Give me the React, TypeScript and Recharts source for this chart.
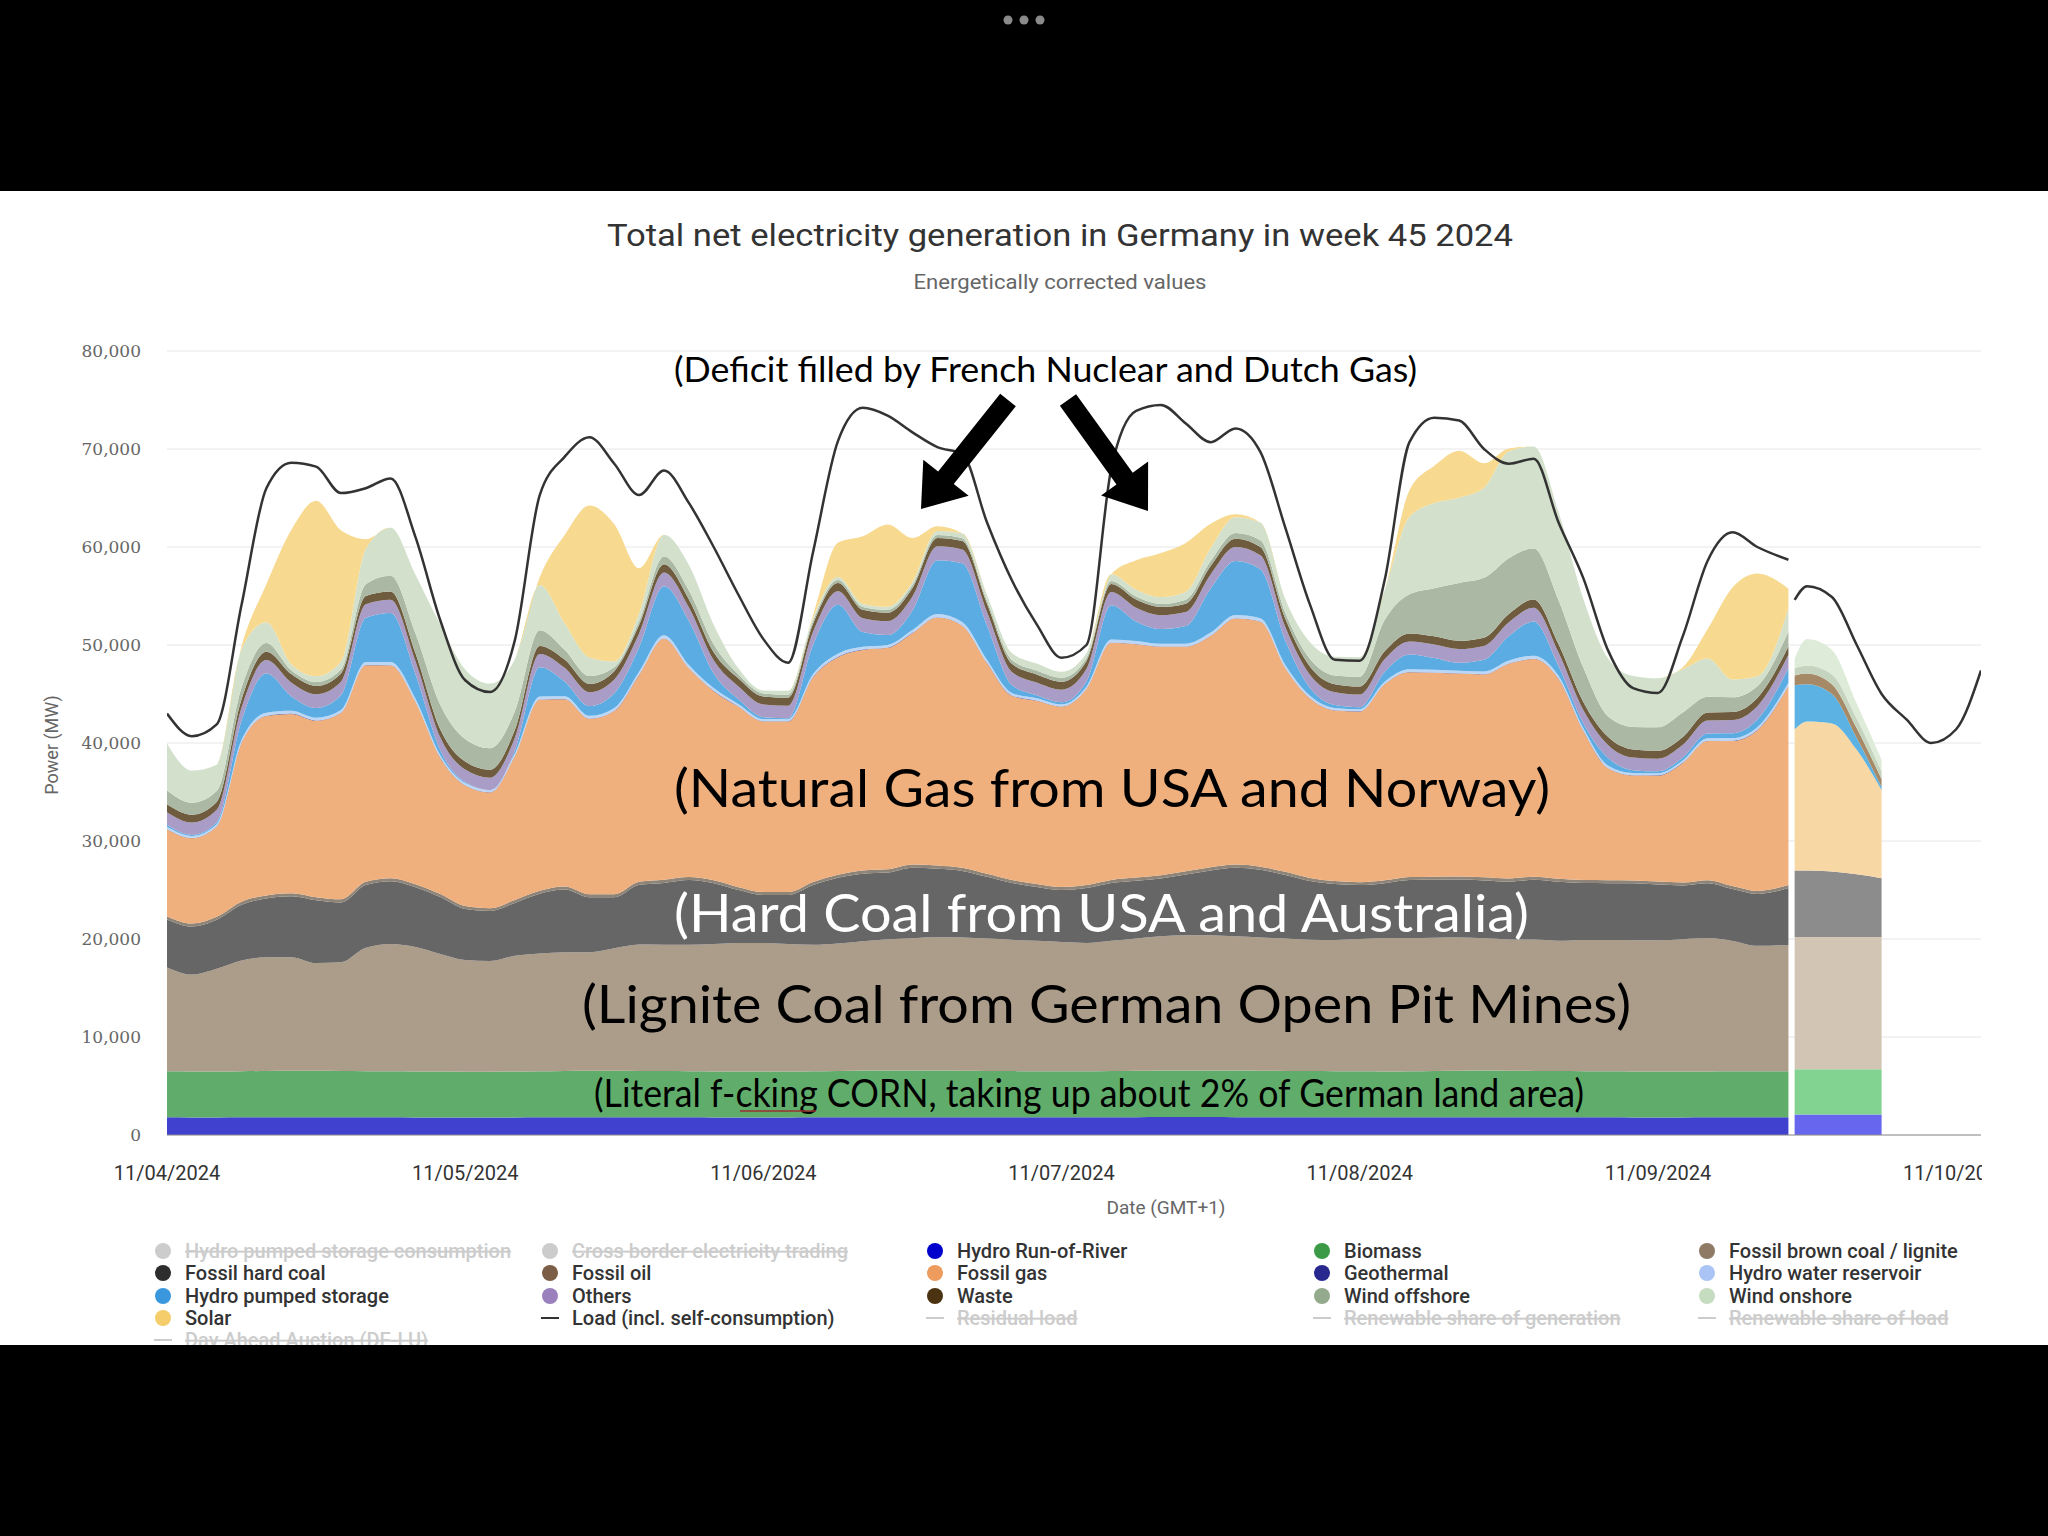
import React from "react"
import { Area, CartesianGrid, ComposedChart, Line, XAxis, YAxis } from "recharts"

// hours since 11/04/2024 00:00 (GMT+1), measured data
const hours = [
  0, 2, 4, 6, 8, 10, 12, 14, 16, 18, 20, 22,
  24, 26, 28, 30, 32, 34, 36, 38, 40, 42, 44, 46,
  48, 50, 52, 54, 56, 58, 60, 62, 64, 66, 68, 70,
  72, 74, 76, 78, 80, 82, 84, 86, 88, 90, 92, 94,
  96, 98, 100, 102, 104, 106, 108, 110, 112, 114, 116, 118,
  120, 122, 124, 126, 128, 130.5,
]

const dayTicks = [0, 24, 48, 72, 96, 120, 144]
const dayLabels = ["11/04/2024", "11/05/2024", "11/06/2024", "11/07/2024", "11/08/2024", "11/09/2024", "11/10/2024"]
const powerTicks = [0, 10000, 20000, 30000, 40000, 50000, 60000, 70000, 80000]

// MW
const runOfRiver = [
  1800, 1790, 1790, 1800, 1810, 1820, 1820, 1810, 1800, 1800, 1790, 1790,
  1780, 1780, 1790, 1800, 1810, 1810, 1810, 1800, 1800, 1800, 1790, 1790,
  1790, 1790, 1800, 1810, 1820, 1820, 1820, 1820, 1810, 1810, 1800, 1800,
  1800, 1800, 1810, 1820, 1830, 1830, 1830, 1820, 1820, 1810, 1810, 1800,
  1800, 1800, 1810, 1820, 1820, 1820, 1820, 1810, 1810, 1800, 1800, 1790,
  1790, 1790, 1800, 1800, 1800, 1800,
]
const biomass = [
  4700, 4690, 4680, 4700, 4720, 4730, 4730, 4720, 4710, 4700, 4700, 4690,
  4680, 4680, 4690, 4710, 4730, 4740, 4740, 4730, 4720, 4710, 4700, 4700,
  4700, 4700, 4710, 4730, 4750, 4760, 4760, 4750, 4740, 4730, 4720, 4710,
  4700, 4700, 4710, 4730, 4750, 4760, 4760, 4750, 4740, 4730, 4720, 4710,
  4700, 4690, 4700, 4720, 4740, 4750, 4740, 4730, 4720, 4710, 4700, 4690,
  4680, 4680, 4690, 4700, 4700, 4700,
]
const lignite = [
  10600, 9900, 10500, 11300, 11600, 11600, 11000, 11100, 12600, 13000, 12700, 12000,
  11400, 11300, 11800, 12000, 12100, 12100, 12500, 12900, 12900, 12900, 13000, 13100,
  13100, 13000, 12900, 13000, 13200, 13400, 13500, 13600, 13600, 13500, 13400, 13300,
  13200, 13100, 13300, 13500, 13700, 13800, 13800, 13700, 13600, 13500, 13400, 13400,
  13500, 13600, 13600, 13600, 13600, 13500, 13400, 13400, 13300, 13400, 13400, 13400,
  13400, 13500, 13600, 13300, 12800, 12900,
]
const hardCoal = [
  4900, 4900, 5000, 5700, 6000, 6200, 6400, 6100, 6400, 6400, 6100, 5800,
  5200, 5100, 5400, 6100, 6400, 5600, 5200, 6100, 6300, 6600, 6200, 5400,
  4900, 5000, 6100, 6700, 6900, 6800, 7200, 7000, 6800, 6300, 5800, 5500,
  5300, 5600, 5900, 5900, 5900, 6200, 6600, 7000, 6900, 6500, 6000, 5700,
  5500, 5600, 5900, 5900, 5900, 5900, 5900, 6100, 6000, 5800, 5800, 5800,
  5700, 5500, 5600, 5300, 5300, 5800,
]
const fossilOil = [
  300, 300, 300, 310, 320, 320, 320, 320, 320, 310, 300, 300,
  300, 290, 300, 310, 320, 320, 320, 320, 320, 310, 300, 300,
  300, 300, 310, 320, 330, 330, 330, 330, 320, 310, 300, 300,
  300, 300, 310, 320, 330, 330, 330, 330, 320, 310, 300, 300,
  300, 300, 310, 320, 320, 320, 320, 320, 310, 300, 300, 300,
  300, 300, 310, 310, 310, 310,
]
const fossilGas = [
  8900, 8700, 9200, 16200, 18300, 18300, 18000, 19000, 22100, 21700, 18600, 13900,
  12300, 11800, 14700, 19500, 19100, 17900, 18700, 21100, 24600, 21300, 19300, 18400,
  17400, 17400, 20900, 22200, 22500, 22600, 23600, 25300, 24700, 21500, 18800, 18700,
  18400, 20000, 24200, 23800, 23300, 22900, 23600, 25100, 25000, 20800, 18300, 17400,
  17400, 20000, 20900, 20800, 20700, 20700, 21900, 22200, 20400, 15200, 11400, 10700,
  10800, 12200, 14200, 14800, 16400, 20300,
]
const geothermal = [
  30, 30, 30, 30, 30, 30, 30, 30, 30, 30, 30, 30,
  30, 30, 30, 30, 30, 30, 30, 30, 30, 30, 30, 30,
  30, 30, 30, 30, 30, 30, 30, 30, 30, 30, 30, 30,
  30, 30, 30, 30, 30, 30, 30, 30, 30, 30, 30, 30,
  30, 30, 30, 30, 30, 30, 30, 30, 30, 30, 30, 30,
  30, 30, 30, 30, 30, 30,
]
const waterReservoir = [
  220, 210, 210, 260, 300, 280, 270, 280, 310, 320, 290, 240,
  220, 210, 230, 290, 290, 270, 280, 300, 330, 320, 280, 240,
  220, 210, 280, 320, 290, 270, 290, 330, 340, 310, 260, 230,
  220, 220, 300, 300, 280, 280, 320, 340, 330, 300, 250, 230,
  220, 230, 280, 280, 270, 270, 300, 320, 290, 260, 240, 220,
  210, 220, 250, 260, 270, 300,
]
const pumpedStorage = [
  200, 100, 200, 2000, 4000, 1500, 1000, 1500, 4500, 5000, 2500, 500,
  100, 0, 300, 3000, 1500, 1000, 1500, 2500, 5000, 4500, 1500, 500,
  200, 100, 3000, 5000, 1500, 1000, 2000, 5500, 6000, 3500, 800, 300,
  200, 500, 3500, 2000, 1500, 1800, 4500, 5500, 5000, 2500, 800, 300,
  200, 1000, 1500, 1200, 800, 1200, 2500, 3500, 1000, 500, 800, 300,
  200, 300, 500, 500, 800, 1500,
]
const others = [
  1280, 1260, 1270, 1330, 1380, 1400, 1400, 1390, 1380, 1360, 1330, 1300,
  1280, 1270, 1290, 1340, 1390, 1410, 1400, 1400, 1390, 1370, 1340, 1310,
  1290, 1280, 1320, 1380, 1420, 1430, 1430, 1420, 1410, 1380, 1340, 1310,
  1290, 1290, 1340, 1400, 1420, 1430, 1430, 1420, 1410, 1380, 1340, 1310,
  1290, 1290, 1330, 1380, 1400, 1410, 1400, 1390, 1370, 1340, 1310, 1290,
  1280, 1290, 1320, 1340, 1350, 1360,
]
const waste = [
  820, 810, 810, 830, 850, 850, 850, 850, 850, 840, 830, 820,
  820, 810, 810, 830, 850, 850, 850, 850, 850, 840, 830, 820,
  820, 810, 820, 840, 850, 860, 860, 850, 850, 840, 830, 820,
  820, 810, 820, 840, 850, 860, 860, 850, 850, 840, 830, 820,
  820, 810, 820, 840, 850, 850, 850, 850, 840, 830, 820, 820,
  810, 810, 820, 830, 840, 840,
]
const windOffshore = [
  1400, 1200, 1100, 1200, 900, 400, 400, 400, 1200, 1600, 2000, 2500,
  2300, 2200, 1900, 1600, 1000, 800, 400, 400, 800, 900, 800, 400,
  300, 300, 300, 300, 300, 300, 300, 300, 300, 300, 400, 400,
  400, 300, 300, 300, 300, 400, 500, 600, 700, 600, 800, 900,
  1000, 3200, 4000, 4900, 5900, 6100, 5700, 5200, 4500, 3500, 2100, 2300,
  2400, 2500, 1600, 1500, 1200, 1500,
]
const windOnshore = [
  4800, 3300, 2700, 3900, 2100, 600, 600, 800, 3600, 4900, 6000, 8200,
  7100, 6600, 5300, 4600, 2700, 1900, 600, 800, 2200, 2600, 2000, 600,
  300, 400, 300, 300, 300, 300, 300, 400, 500, 600, 700, 700,
  600, 500, 700, 700, 700, 800, 1300, 1600, 1800, 1400, 1700, 1900,
  2000, 3000, 7900, 8700, 8700, 9200, 10900, 10400, 9000, 7000, 5900, 5200,
  5000, 4400, 3900, 1800, 1000, 2400,
]
const solar = [
  0, 0, 0, 300, 3900, 13700, 17900, 13400, 1000, 0, 0, 0,
  0, 0, 0, 800, 9000, 15500, 14000, 4600, 0, 0, 0, 0,
  0, 0, 300, 3500, 6900, 8400, 4500, 500, 0, 0, 0, 0,
  0, 0, 0, 3000, 4500, 5000, 2500, 300, 0, 0, 0, 0,
  0, 0, 2700, 3800, 4800, 2500, 300, 0, 0, 0, 0, 0,
  0, 200, 3000, 9400, 10500, 2000,
]
const load = [
  43000, 40700, 41900, 54100, 66000, 68600, 68200, 65500, 66000, 67000, 61000, 52500,
  46400, 45200, 50500, 65300, 69200, 71200, 68500, 65300, 67800, 64500, 60000, 55100,
  50600, 48200, 59500, 70800, 74200, 73400, 71700, 70200, 69500, 62500, 56600, 52100,
  48700, 50000, 68000, 73900, 74500, 72600, 70700, 72100, 69700, 62000, 54100, 48500,
  48400, 56600, 70700, 73200, 72900, 70000, 68500, 69000, 62500, 56800, 49400, 45600,
  45100, 50900, 58600, 61500, 60000, 58700,
]

// forecast (lighter colours)
const forecastHours = [131, 132, 134, 136, 138]
const fRunOfRiver = [2100, 2100, 2100, 2100, 2100]
const fBiomass = [4600, 4600, 4600, 4600, 4600]
const fLignite = [13500, 13500, 13500, 13500, 13500]
const fHardCoal = [6800, 6800, 6700, 6400, 6000]
const fGas = [14400, 15200, 15100, 12700, 9000]
const fPumped = [4500, 3800, 3000, 1200, 300]
const fWaste = [1000, 1100, 1000, 1000, 800]
const fOffshore = [700, 800, 1000, 1000, 800]
const fOnshore = [1000, 2700, 2500, 1500, 1200]

const loadForecastHours = [131, 132, 134, 136, 138, 140, 142, 144, 146]
const loadForecast = [54600, 56000, 54900, 50000, 45000, 42400, 40000, 41400, 47400]

const actualSeries = [
  { key: "ror", values: runOfRiver, color: "#4141cf" },
  { key: "biomass", values: biomass, color: "#60ad6b" },
  { key: "lignite", values: lignite, color: "#ac9c8a" },
  { key: "hardCoal", values: hardCoal, color: "#666666" },
  { key: "oil", values: fossilOil, color: "#8e8478" },
  { key: "gas", values: fossilGas, color: "#f0b07d" },
  { key: "geo", values: geothermal, color: "#3a3a90" },
  { key: "reservoir", values: waterReservoir, color: "#bcd6f6" },
  { key: "pumped", values: pumpedStorage, color: "#5aace2" },
  { key: "others", values: others, color: "#a99cc6" },
  { key: "waste", values: waste, color: "#6f5b3d" },
  { key: "offshore", values: windOffshore, color: "#abb9a4" },
  { key: "onshore", values: windOnshore, color: "#d3e1cc" },
  { key: "solar", values: solar, color: "#f7d98f" },
]

const forecastSeries = [
  { key: "fRor", values: fRunOfRiver, color: "#6666ee" },
  { key: "fBiomass", values: fBiomass, color: "#82d292" },
  { key: "fLignite", values: fLignite, color: "#d3c5b3" },
  { key: "fHardCoal", values: fHardCoal, color: "#8c8c8c" },
  { key: "fGas", values: fGas, color: "#f7d7a4" },
  { key: "fPumped", values: fPumped, color: "#5cb3e3" },
  { key: "fWaste", values: fWaste, color: "#a68a68" },
  { key: "fOffshore", values: fOffshore, color: "#c5d4bf" },
  { key: "fOnshore", values: fOnshore, color: "#deebd8" },
]

const legendItems = [
  { label: "Hydro pumped storage consumption", color: "#cccccc", line: false, off: true },
  { label: "Cross border electricity trading", color: "#cccccc", line: false, off: true },
  { label: "Hydro Run-of-River", color: "#0000cc", line: false, off: false },
  { label: "Biomass", color: "#3a9a46", line: false, off: false },
  { label: "Fossil brown coal / lignite", color: "#8e7a65", line: false, off: false },
  { label: "Fossil hard coal", color: "#2d2d2d", line: false, off: false },
  { label: "Fossil oil", color: "#7b5e45", line: false, off: false },
  { label: "Fossil gas", color: "#ee9b5e", line: false, off: false },
  { label: "Geothermal", color: "#28288f", line: false, off: false },
  { label: "Hydro water reservoir", color: "#aac4f6", line: false, off: false },
  { label: "Hydro pumped storage", color: "#3b97dd", line: false, off: false },
  { label: "Others", color: "#9b80be", line: false, off: false },
  { label: "Waste", color: "#4b3311", line: false, off: false },
  { label: "Wind offshore", color: "#94aa8d", line: false, off: false },
  { label: "Wind onshore", color: "#c6dcc0", line: false, off: false },
  { label: "Solar", color: "#f6cd6b", line: false, off: false },
  { label: "Load (incl. self-consumption)", color: "#333333", line: true, off: false },
  { label: "Residual load", color: "#cccccc", line: true, off: true },
  { label: "Renewable share of generation", color: "#cccccc", line: true, off: true },
  { label: "Renewable share of load", color: "#cccccc", line: true, off: true },
  { label: "Day Ahead Auction (DE-LU)", color: "#cccccc", line: true, off: true },
]

type Row = { h: number; [key: string]: number | null }

const buildRows = () => {
  const map = new Map<number, Row>()
  const at = (h: number) => {
    let r = map.get(h)
    if (!r) {
      r = { h }
      map.set(h, r)
    }
    return r
  }
  actualSeries.forEach((s) => hours.forEach((h, i) => (at(h)[s.key] = s.values[i])))
  hours.forEach((h, i) => (at(h).load = load[i]))
  forecastSeries.forEach((s) => forecastHours.forEach((h, i) => (at(h)[s.key] = s.values[i])))
  loadForecastHours.forEach((h, i) => (at(h).loadForecast = loadForecast[i]))
  const keys = [...actualSeries, ...forecastSeries].map((s) => s.key).concat(["load", "loadForecast"])
  const rows = [...map.values()].sort((a, b) => a.h - b.h)
  rows.forEach((r) => keys.forEach((k) => { if (r[k] === undefined) r[k] = null }))
  return rows
}

const data = buildRows()

const arrowPoints = (tx: number, ty: number, px: number, py: number, shaft: number, head: number, headLen: number) => {
  const len = Math.hypot(px - tx, py - ty)
  const ux = (px - tx) / len
  const uy = (py - ty) / len
  const nx = -uy
  const ny = ux
  const bx = px - ux * headLen
  const by = py - uy * headLen
  return [
    [tx + nx * shaft, ty + ny * shaft],
    [bx + nx * shaft, by + ny * shaft],
    [bx + nx * head, by + ny * head],
    [px, py],
    [bx - nx * head, by - ny * head],
    [bx - nx * shaft, by - ny * shaft],
    [tx - nx * shaft, ty - ny * shaft],
  ]
    .map((p) => p.join(","))
    .join(" ")
}

const legendCols = [163, 550, 935, 1322, 1707]
const legendRows = [1251, 1273, 1296, 1318, 1340]

export default function App() {
  return (
    <div style={{ position: "absolute", left: 0, top: 0, width: 2048, height: 1536, background: "#000", overflow: "hidden" }}>
      <div style={{ position: "absolute", left: 0, top: 191, width: 2048, height: 1154, background: "#fff" }} />
      <div style={{ position: "absolute", left: 0, top: 300 }}>
        <ComposedChart width={1982} height={900} data={data} margin={{ top: 51, right: 1, bottom: 0, left: 0 }}>
          <CartesianGrid stroke="#e6e6e6" vertical={false} />
          <XAxis
            dataKey="h"
            type="number"
            domain={[0, 146]}
            ticks={dayTicks}
            interval={0}
            allowDataOverflow
            tickFormatter={(v: number) => dayLabels[dayTicks.indexOf(v)]}
            tickLine={false}
            tickSize={0}
            tickMargin={31}
            height={65}
            axisLine={{ stroke: "#8c8c8c" }}
            tick={{ fill: "#333", fontSize: 20, fontFamily: "Roboto" }}
          />
          <YAxis
            type="number"
            domain={[0, 80000]}
            ticks={powerTicks}
            width={167}
            tickLine={false}
            axisLine={false}
            tickSize={0}
            tickMargin={26}
            tickFormatter={(v: number) => v.toLocaleString("en-US")}
            tick={{ fill: "#666", fontSize: 17, fontFamily: "DejaVu Serif" }}
          />
          {actualSeries.map((s) => (
            <Area
              key={s.key}
              type="monotone"
              dataKey={s.key}
              stackId="actual"
              fill={s.color}
              fillOpacity={1}
              stroke="none"
              dot={false}
              activeDot={false}
              isAnimationActive={false}
            />
          ))}
          {forecastSeries.map((s) => (
            <Area
              key={s.key}
              type="monotone"
              dataKey={s.key}
              stackId="forecast"
              fill={s.color}
              fillOpacity={1}
              stroke="none"
              dot={false}
              activeDot={false}
              isAnimationActive={false}
            />
          ))}
          <Line type="monotone" dataKey="load" stroke="#333" strokeWidth={2.5} dot={false} activeDot={false} isAnimationActive={false} />
          <Line type="monotone" dataKey="loadForecast" stroke="#333" strokeWidth={2.5} dot={false} activeDot={false} isAnimationActive={false} />
        </ComposedChart>
      </div>

      <svg width={2048} height={1536} style={{ position: "absolute", left: 0, top: 0, pointerEvents: "none" }}>
        <circle cx={1008} cy={20} r={4.5} fill="#8a8a8a" />
        <circle cx={1024} cy={20} r={4.5} fill="#8a8a8a" />
        <circle cx={1040} cy={20} r={4.5} fill="#8a8a8a" />

        <text x={1060} y={246} textAnchor="middle" fontFamily="Roboto" fontSize={32} fill="#333" textLength={906} lengthAdjust="spacingAndGlyphs">
          Total net electricity generation in Germany in week 45 2024
        </text>
        <text x={1060} y={289} textAnchor="middle" fontFamily="Roboto" fontSize={20} fill="#666" textLength={293} lengthAdjust="spacingAndGlyphs">
          Energetically corrected values
        </text>
        <text transform="translate(58,745) rotate(-90)" textAnchor="middle" fontFamily="Roboto" fontSize={18} fill="#666">
          Power (MW)
        </text>
        <text x={1166} y={1214} textAnchor="middle" fontFamily="Roboto" fontSize={19} fill="#666">
          Date (GMT+1)
        </text>

        <text x={674} y={382} fontFamily="Lato" fontSize={35} fill="#000" textLength={743} lengthAdjust="spacingAndGlyphs">
          (Deficit filled by French Nuclear and Dutch Gas)
        </text>
        <polygon points={arrowPoints(1008, 400, 921, 509, 10, 29, 40)} fill="#000" />
        <polygon points={arrowPoints(1068, 400, 1148, 511, 10, 29, 40)} fill="#000" />
        <text x={674} y={807} fontFamily="Lato" fontSize={53} fill="#000" textLength={876} lengthAdjust="spacingAndGlyphs">
          (Natural Gas from USA and Norway)
        </text>
        <text x={674} y={932} fontFamily="Lato" fontSize={53} fill="#fff" textLength={855} lengthAdjust="spacingAndGlyphs">
          (Hard Coal from USA and Australia)
        </text>
        <text x={582} y={1023} fontFamily="Lato" fontSize={53} fill="#000" textLength={1049} lengthAdjust="spacingAndGlyphs">
          (Lignite Coal from German Open Pit Mines)
        </text>
        <text x={594} y={1107} fontFamily="Lato" fontSize={38} fill="#000" textLength={990} lengthAdjust="spacingAndGlyphs">
          (Literal f-cking CORN, taking up about 2% of German land area)
        </text>
        <line x1={740} y1={1111} x2={816} y2={1111} stroke="#9a3030" strokeWidth={1.5} />

        {legendItems.map((it, i) => {
          const cx = legendCols[i % 5]
          const cy = legendRows[Math.floor(i / 5)]
          return (
            <g key={it.label}>
              {it.line ? (
                <line x1={cx - 9} y1={cy} x2={cx + 9} y2={cy} stroke={it.color} strokeWidth={2} />
              ) : (
                <circle cx={cx} cy={cy} r={8} fill={it.color} />
              )}
              <text
                x={cx + 22}
                y={cy + 7}
                fontFamily="Roboto"
                fontSize={20}
                fontWeight={500}
                fill={it.off ? "#cccccc" : "#333"}
                textDecoration={it.off ? "line-through" : undefined}
              >
                {it.label}
              </text>
            </g>
          )
        })}
        <rect x={0} y={1345} width={2048} height={191} fill="#000" />
      </svg>
    </div>
  )
}
